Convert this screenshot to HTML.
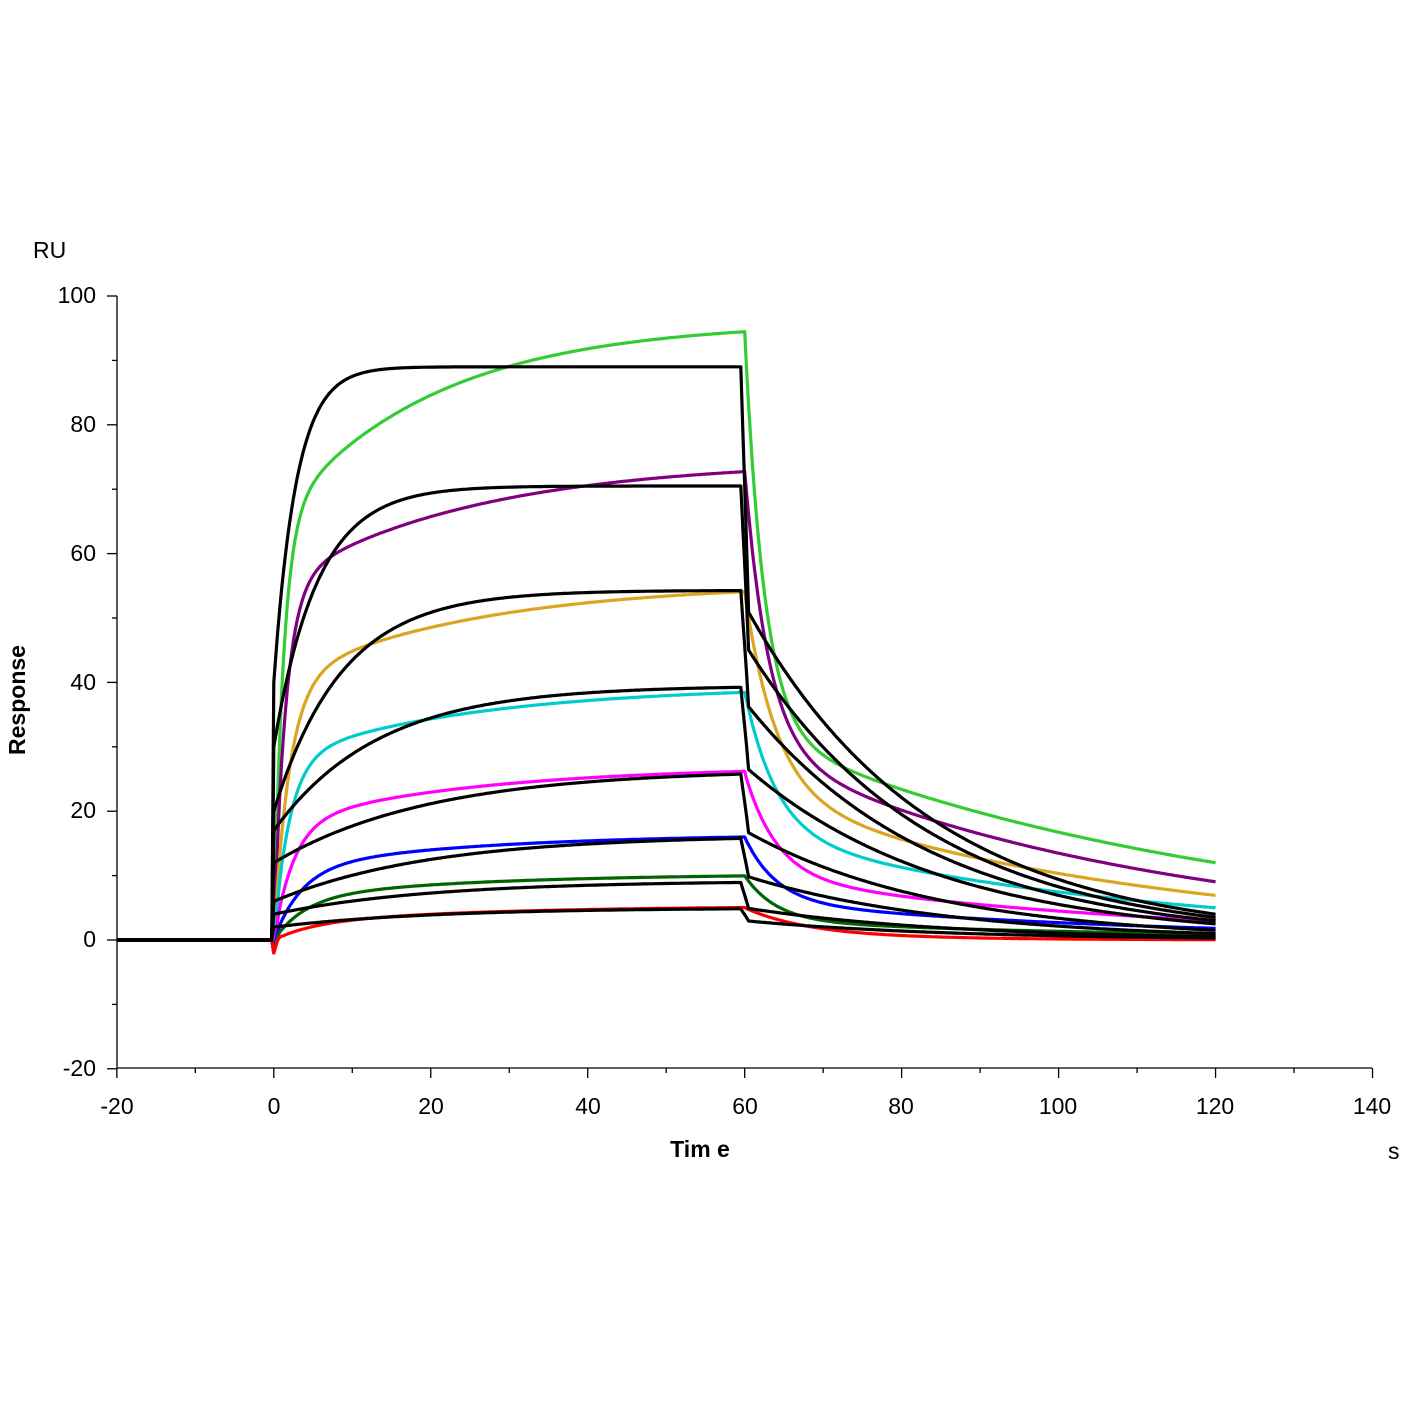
<!DOCTYPE html>
<html><head><meta charset="utf-8"><style>
html,body{margin:0;padding:0;background:#fff}
svg{display:block}
text{font-family:"Liberation Sans",Arial,sans-serif;fill:#000}
</style></head><body>
<svg id="s" width="1401" height="1401" viewBox="0 0 1401 1401" xmlns="http://www.w3.org/2000/svg">
<rect width="1401" height="1401" fill="#fff"/>
<g id="axes" stroke="#000" stroke-width="1.3" fill="none"></g>
<g id="curves" fill="none" stroke-width="3.2" stroke-linejoin="round"></g>
<g font-size="23">
<text x="33" y="258">RU</text>
<text x="96" y="303" text-anchor="end">100</text>
<text x="96" y="432" text-anchor="end">80</text>
<text x="96" y="561" text-anchor="end">60</text>
<text x="96" y="690" text-anchor="end">40</text>
<text x="96" y="818" text-anchor="end">20</text>
<text x="96" y="947" text-anchor="end">0</text>
<text x="96" y="1076" text-anchor="end">-20</text>
<text x="117" y="1114" text-anchor="middle">-20</text>
<text x="274" y="1114" text-anchor="middle">0</text>
<text x="431" y="1114" text-anchor="middle">20</text>
<text x="588" y="1114" text-anchor="middle">40</text>
<text x="745" y="1114" text-anchor="middle">60</text>
<text x="901" y="1114" text-anchor="middle">80</text>
<text x="1058" y="1114" text-anchor="middle">100</text>
<text x="1215" y="1114" text-anchor="middle">120</text>
<text x="1372" y="1114" text-anchor="middle">140</text>
<text x="1388" y="1159">s</text>
<text x="700" y="1157" text-anchor="middle" font-weight="bold">Tim e</text>
<text transform="translate(25,700) rotate(-90)" text-anchor="middle" font-weight="bold">Response</text>
</g>
</svg>
<script>
var X=function(t){return 273.8+t*7.848;},Y=function(v){return 940-v*6.44;};
var ax=document.getElementById('axes'),h='';
h+='<line x1="117" y1="296" x2="117" y2="1068"/><line x1="117" y1="1068" x2="1372" y2="1068"/>';
for(var v=-20;v<=100;v+=10){var y=Y(v);h+='<line x1="'+(v%20==0?107:112)+'" y1="'+y+'" x2="117" y2="'+y+'"/>';}
for(var t=-20;t<=140;t+=10){var x=X(t);h+='<line x1="'+x+'" y1="1068" x2="'+x+'" y2="'+(t%20==0?1078:1073)+'"/>';}
ax.innerHTML=h;
function path(f,col){var d='';for(var t=-20;t<=120.001;t+=0.25){var v=f(t);d+=(d?'L':'M')+X(t).toFixed(1)+','+Y(v).toFixed(1);}return '<path d="'+d+'" stroke="'+col+'"/>';}
var cols=[
['#33cc33',65,1.2,31,20,32.6,60,62,2.5],
['#800080',55,1.5,19.5,25,30,50,43,3],
['#daa520',40,2,15.5,25,23,50,31,4],
['#00cccc',28,2,11.5,25,16.6,50,22,4],
['#ff00ff',18,2.5,9,25,10,50,16,4],
['#0000ff',11,3.5,5.5,25,6,50,10,4],
['#006400',6.5,4,3.8,25,3,50,7,4],
['#ff0000',2.5,5,2.8,25,1,20,4,8]];
var out='';
cols.forEach(function(c){out+=path(function(t){
 if(t<0)return 0;
 if(t<=60){var v=c[1]*(1-Math.exp(-t/c[2]))+c[3]*(1-Math.exp(-t/c[4]));if(t<0.6)v-=2*(1-t/0.6);return v;}
 var s=t-60;return c[5]*Math.exp(-s/c[6])+c[7]*Math.exp(-s/c[8]);},c[0]);});
var bl=[[89,40,0.35,52,4],[70.5,30,0.18,46,3.5],[54.3,20,0.115,37,3],[39.5,17,0.075,27,2.5],[26.5,12,0.05,17,1.5],[16.3,6,0.05,10,1],[9.2,4,0.05,5,0.5],[5,2,0.05,3,0.3]];
bl.forEach(function(b,i){out+=path(function(t){
 if(t<0)return 0;
 if(t<=59.5)return b[1]+(b[0]-b[1])*(1-Math.exp(-b[2]*t));
 if(t<60.5){var r=b[1]+(b[0]-b[1])*(1-Math.exp(-b[2]*59.5));return r+(b[3]-r)*(t-59.5);}
 var k=Math.log(b[3]/b[4])/60;return b[3]*Math.exp(-k*(t-60));},'#000');});
document.getElementById('curves').innerHTML=out;
</script>
</body></html>
